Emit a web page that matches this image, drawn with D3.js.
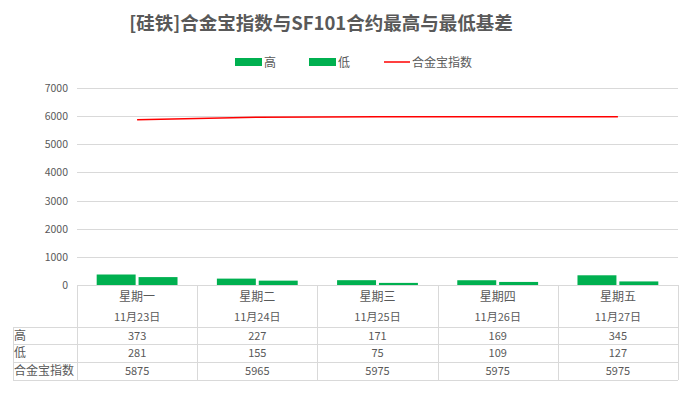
<!DOCTYPE html>
<html>
<head>
<meta charset="utf-8">
<script src="https://cdn.jsdelivr.net/npm/d3@7"></script>
<style>
  body { margin: 0; background: #fff; }
  text { font-family: "Noto Sans CJK SC", "Microsoft YaHei", sans-serif; }
</style>
</head>
<body>
<div id="chart"></div>
<script>
var days = ['星期一', '星期二', '星期三', '星期四', '星期五']
var dates = ['11月23日', '11月24日', '11月25日', '11月26日', '11月27日']
var high = [373, 227, 171, 169, 345]
var low = [281, 155, 75, 109, 127]
var index = [5875, 5965, 5975, 5975, 5975]
var yTicks = [0, 1000, 2000, 3000, 4000, 5000, 6000, 7000]
var title = '[硅铁]合金宝指数与SF101合约最高与最低基差'

var W = 693, H = 394
var plotL = 77, plotR = 678, plotT = 88, plotB = 285
var tableLeft = 13
var rowLines = [327, 344, 362, 380]
var green = '#00B050', grey = '#595959', gridC = '#d9d9d9'

var svg = d3.select('#chart').append('svg').attr('width', W).attr('height', H)

var x = d3.scaleBand().domain(days).range([plotL, plotR])
var inner = d3.scaleBand().domain(['high', 'low']).range([0, x.bandwidth()]).paddingOuter(0.47).paddingInner(0.07)
var y = d3.scaleLinear().domain([0, 7000]).range([plotB, plotT])

// title
svg.append('text').attr('x', 321).attr('y', 30).attr('text-anchor', 'middle')
  .attr('font-size', 18.5).attr('font-weight', 'bold').attr('fill', grey).text(title)

// gridlines
svg.append('g').selectAll('line').data(yTicks).enter().append('line')
  .attr('x1', plotL).attr('x2', plotR)
  .attr('y1', function(d){ return Math.round(y(d)) + 0.5 })
  .attr('y2', function(d){ return Math.round(y(d)) + 0.5 })
  .attr('stroke', gridC).attr('stroke-width', 1)

svg.append('g').selectAll('text').data(yTicks).enter().append('text')
  .attr('x', 68).attr('y', function(d){ return y(d) + 4 })
  .attr('text-anchor', 'end').attr('font-size', 10.5).attr('fill', grey)
  .text(function(d){ return d })

// bars
var groups = svg.append('g').selectAll('g').data(days).enter().append('g')
  .attr('transform', function(d){ return 'translate(' + x(d) + ',0)' })
groups.append('rect').attr('x', inner('high')).attr('width', inner.bandwidth())
  .attr('y', function(d, i){ return y(high[i]) }).attr('height', function(d, i){ return plotB - y(high[i]) })
  .attr('fill', green)
groups.append('rect').attr('x', inner('low')).attr('width', inner.bandwidth())
  .attr('y', function(d, i){ return y(low[i]) }).attr('height', function(d, i){ return plotB - y(low[i]) })
  .attr('fill', green)

// index line
var line = d3.line()
  .x(function(d, i){ return x(days[i]) + x.bandwidth() / 2 })
  .y(function(d){ return y(d) })
svg.append('path').datum(index).attr('d', line)
  .attr('fill', 'none').attr('stroke', '#ff0000').attr('stroke-width', 1.5)

// legend
var lg = svg.append('g').attr('font-size', 12).attr('fill', grey)
lg.append('rect').attr('x', 235).attr('y', 58).attr('width', 27).attr('height', 8).attr('fill', green)
lg.append('text').attr('x', 264).attr('y', 67).text('高')
lg.append('rect').attr('x', 309).attr('y', 58).attr('width', 27).attr('height', 8).attr('fill', green)
lg.append('text').attr('x', 338).attr('y', 67).text('低')
lg.append('line').attr('x1', 384).attr('x2', 410).attr('y1', 62).attr('y2', 62).attr('stroke', '#ff0000').attr('stroke-width', 1.5)
lg.append('text').attr('x', 412).attr('y', 67).text('合金宝指数')

// data table
var tbl = svg.append('g')
rowLines.forEach(function(ry){
  tbl.append('line').attr('x1', tableLeft).attr('x2', plotR).attr('y1', ry + 0.5).attr('y2', ry + 0.5)
    .attr('stroke', gridC)
})
tbl.append('line').attr('x1', tableLeft + 0.5).attr('x2', tableLeft + 0.5)
  .attr('y1', rowLines[0]).attr('y2', rowLines[3]).attr('stroke', gridC)
var bounds = days.map(function(d){ return x(d) }).concat([plotR])
tbl.selectAll('.vl').data(bounds).enter().append('line')
  .attr('x1', function(d){ return Math.round(d) + 0.5 }).attr('x2', function(d){ return Math.round(d) + 0.5 })
  .attr('y1', plotB).attr('y2', rowLines[3]).attr('stroke', gridC)

var cx = function(d){ return x(d) + x.bandwidth() / 2 }
tbl.selectAll('.day').data(days).enter().append('text')
  .attr('x', cx).attr('y', 301).attr('text-anchor', 'middle').attr('font-size', 12).attr('fill', grey)
  .text(function(d){ return d })
tbl.selectAll('.date').data(dates).enter().append('text')
  .attr('x', function(d, i){ return cx(days[i]) }).attr('y', 321).attr('text-anchor', 'middle')
  .attr('font-size', 11).attr('fill', grey).text(function(d){ return d })

var rows = [['高', high], ['低', low], ['合金宝指数', index]]
rows.forEach(function(r, k){
  var ty = (rowLines[k] + rowLines[k + 1]) / 2 + 4
  tbl.append('text').attr('x', tableLeft + 1).attr('y', ty).attr('font-size', 12).attr('fill', grey).text(r[0])
  tbl.selectAll('.v' + k).data(r[1]).enter().append('text')
    .attr('x', function(d, i){ return cx(days[i]) }).attr('y', ty)
    .attr('text-anchor', 'middle').attr('font-size', 11).attr('fill', grey)
    .text(function(d){ return d })
})
</script>
</body>
</html>
